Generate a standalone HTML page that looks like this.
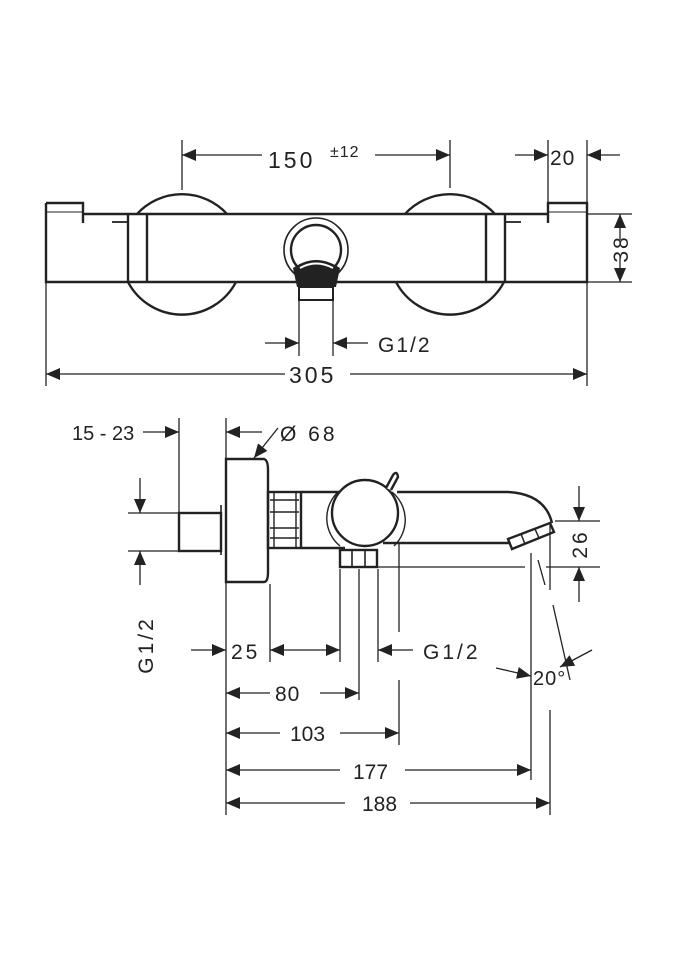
<!DOCTYPE html>
<html><head><meta charset="utf-8"><style>
html,body{margin:0;padding:0;background:#fff}
svg{display:block}
text{font-family:"Liberation Sans",sans-serif;fill:#222}
</style></head><body>
<svg width="675" height="960" viewBox="0 0 675 960" xmlns="http://www.w3.org/2000/svg" style="letter-spacing:2px">
<defs>
<marker id="a" viewBox="0 0 14 12" refX="14" refY="6" markerWidth="14" markerHeight="12" markerUnits="userSpaceOnUse" orient="auto">
<path d="M0,0 L14,6 L0,12 Z" fill="#222"/></marker>
</defs>
<g stroke="#222" fill="none" stroke-width="1.3">
<line x1="182" y1="140" x2="182" y2="190"/>
<line x1="450" y1="140" x2="450" y2="188"/>
<line x1="548" y1="140" x2="548" y2="202"/>
<line x1="587" y1="140" x2="587" y2="202"/>
<line x1="46" y1="282" x2="46" y2="386"/>
<line x1="587" y1="282" x2="587" y2="386"/>
<line x1="587" y1="214" x2="632" y2="214"/>
<line x1="587" y1="282" x2="632" y2="282"/>
<line x1="299" y1="298" x2="299" y2="356"/>
<line x1="333" y1="298" x2="333" y2="356"/>
<line x1="262" y1="155" x2="182" y2="155" marker-end="url(#a)"/>
<line x1="375" y1="155" x2="450" y2="155" marker-end="url(#a)"/>
<line x1="515" y1="155" x2="548" y2="155" marker-end="url(#a)"/>
<line x1="620" y1="155" x2="587" y2="155" marker-end="url(#a)"/>
<line x1="140" y1="374" x2="46" y2="374" marker-end="url(#a)"/>
<line x1="500" y1="374" x2="587" y2="374" marker-end="url(#a)"/>
<line x1="350" y1="374" x2="500" y2="374"/>
<line x1="140" y1="374" x2="285" y2="374"/>
<line x1="620" y1="240" x2="620" y2="214" marker-end="url(#a)"/>
<line x1="620" y1="258" x2="620" y2="282" marker-end="url(#a)"/>
<line x1="265" y1="343" x2="299" y2="343" marker-end="url(#a)"/>
<line x1="368" y1="343" x2="333" y2="343" marker-end="url(#a)"/>
</g>
<g stroke="#222" fill="none" stroke-width="2.4">
<path d="M137,214 A61,61 0 0 1 227,214"/>
<path d="M128,282 A61,61 0 0 0 236,282"/>
<path d="M405,214 A61,61 0 0 1 495,214"/>
<path d="M396,282 A61,61 0 0 0 504,282"/>
<path d="M46,203 H83 V223 M46,203 V282 H587 V203 H548 V223 M83,214 H548"/>
<line x1="128" y1="214" x2="128" y2="282"/>
<line x1="147" y1="214" x2="147" y2="282"/>
<line x1="486" y1="214" x2="486" y2="282"/>
<line x1="505" y1="214" x2="505" y2="282"/>
<line x1="112" y1="222" x2="128" y2="222" stroke-width="1.8"/>
<line x1="505" y1="222" x2="521" y2="222" stroke-width="1.8"/>
<line x1="46" y1="212" x2="83" y2="212" stroke-width="1"/>
<line x1="548" y1="212" x2="587" y2="212" stroke-width="1"/>
<rect x="299" y="287" width="34" height="13" stroke-width="2"/>
</g>
<g stroke="#222" fill="none">
<circle cx="316" cy="250" r="32" stroke-width="1.6"/>
<circle cx="316" cy="250" r="25" stroke-width="2.4"/>
</g>
<path d="M293,268 Q316,252 340,268 L336,287 H297 Z" fill="#222"/>
<path d="M300,268 Q316,259 333,268" stroke="#fff" stroke-width="2" fill="none"/>
<text x="268" y="168" font-size="23" style="letter-spacing:3px">150</text>
<text x="330" y="157" font-size="16" style="letter-spacing:1px">±12</text>
<text x="550" y="165" font-size="21" style="letter-spacing:1px">20</text>
<text x="378" y="352" font-size="21">G1/2</text>
<text x="289" y="383" font-size="23" style="letter-spacing:3px">305</text>
<text transform="translate(628,249) rotate(-90)" font-size="21" text-anchor="middle">38</text>

<g stroke="#222" fill="none" stroke-width="1.3">
<line x1="179" y1="418" x2="179" y2="513"/>
<line x1="226" y1="418" x2="226" y2="815"/>
<line x1="128" y1="513" x2="179" y2="513"/>
<line x1="128" y1="551" x2="179" y2="551"/>
<line x1="140" y1="478" x2="140" y2="513" marker-end="url(#a)"/>
<line x1="140" y1="585" x2="140" y2="551" marker-end="url(#a)"/>
<line x1="143" y1="432" x2="179" y2="432" marker-end="url(#a)"/>
<line x1="262" y1="432" x2="226" y2="432" marker-end="url(#a)"/>
<line x1="278" y1="428" x2="254" y2="458" marker-end="url(#a)"/>
<line x1="270" y1="584" x2="270" y2="662"/>
<line x1="340" y1="569" x2="340" y2="662"/>
<line x1="359" y1="569" x2="359" y2="700"/>
<line x1="378" y1="569" x2="378" y2="662"/>
<line x1="399" y1="543" x2="399" y2="632"/>
<line x1="399" y1="680" x2="399" y2="745"/>
<line x1="377" y1="567" x2="525" y2="567"/>
<line x1="531" y1="553" x2="531" y2="780"/>
<line x1="550" y1="710" x2="550" y2="815"/>
<line x1="550" y1="525" x2="550" y2="590"/>
<line x1="555" y1="521" x2="600" y2="521"/>
<line x1="546" y1="567" x2="600" y2="567"/>
<line x1="579" y1="486" x2="579" y2="521" marker-end="url(#a)"/>
<line x1="579" y1="602" x2="579" y2="567" marker-end="url(#a)"/>
<line x1="538" y1="560" x2="545" y2="585"/>
<line x1="553" y1="605" x2="570" y2="680"/>
<line x1="496" y1="668" x2="531" y2="676" marker-end="url(#a)"/>
<line x1="592" y1="650" x2="560" y2="667" marker-end="url(#a)"/>
<line x1="191" y1="650" x2="226" y2="650" marker-end="url(#a)"/>
<line x1="300" y1="650" x2="270" y2="650" marker-end="url(#a)"/>
<line x1="300" y1="650" x2="340" y2="650" marker-end="url(#a)"/>
<line x1="413" y1="650" x2="378" y2="650" marker-end="url(#a)"/>
<line x1="270" y1="693" x2="226" y2="693" marker-end="url(#a)"/>
<line x1="320" y1="693" x2="359" y2="693" marker-end="url(#a)"/>
<line x1="280" y1="733" x2="226" y2="733" marker-end="url(#a)"/>
<line x1="340" y1="733" x2="399" y2="733" marker-end="url(#a)"/>
<line x1="340" y1="770" x2="226" y2="770" marker-end="url(#a)"/>
<line x1="405" y1="770" x2="531" y2="770" marker-end="url(#a)"/>
<line x1="345" y1="803" x2="226" y2="803" marker-end="url(#a)"/>
<line x1="410" y1="803" x2="550" y2="803" marker-end="url(#a)"/>
</g>
<g stroke="#222" fill="none" stroke-width="2.4">
<rect x="179" y="513" width="42" height="38"/>
<line x1="221" y1="505" x2="221" y2="555" stroke-width="1.6"/>
<path d="M226,459 H264 Q268,460 268,470 V572 Q268,582 264,582 H226 Z"/>
<rect x="268" y="492" width="33" height="56"/>
<line x1="274" y1="492" x2="274" y2="548" stroke-width="1.4"/>
<line x1="296" y1="492" x2="296" y2="548" stroke-width="1.4"/>
<line x1="270" y1="500" x2="299" y2="500" stroke-width="1.4"/>
<line x1="270" y1="512" x2="299" y2="512" stroke-width="1.4"/>
<line x1="270" y1="528" x2="299" y2="528" stroke-width="1.4"/>
<line x1="270" y1="538" x2="299" y2="538" stroke-width="1.4"/>
<path d="M301,492 H340 M301,548 H345"/>
<path d="M397,492 H508 Q545,494 552,523"/>
<path d="M383,543 H510"/>
<path d="M508,539 L550,523 L554,532 L512,549 Z"/>
<line x1="521" y1="534" x2="525" y2="544" stroke-width="1.5"/>
<line x1="535" y1="529" x2="539" y2="538" stroke-width="1.5"/>
<path d="M338,492 A36,36 0 0 0 340,546" stroke-width="1.4"/>
<path d="M392,492 A36,36 0 0 1 394,546" stroke-width="1.4"/>
<circle cx="365" cy="513" r="33" fill="#fff"/>
<path d="M386,488 L393,475 Q397,470 398,477 L391,490" fill="#fff"/>
<rect x="340" y="550" width="37" height="17"/>
<line x1="352" y1="550" x2="352" y2="567" stroke-width="1.6"/>
<line x1="365" y1="550" x2="365" y2="567" stroke-width="1.6"/>
</g>
<text x="72" y="440" font-size="20" style="letter-spacing:0px">15 - 23</text>
<text x="280" y="441" font-size="21" style="letter-spacing:3px">Ø 68</text>
<text transform="translate(153,645) rotate(-90)" font-size="21" text-anchor="middle" style="letter-spacing:3px">G1/2</text>
<text x="231" y="659" font-size="21" style="letter-spacing:3px">25</text>
<text x="423" y="659" font-size="21" style="letter-spacing:3px">G1/2</text>
<text x="533" y="685" font-size="20" style="letter-spacing:1px">20°</text>
<text x="275" y="701" font-size="21" style="letter-spacing:1px">80</text>
<text x="290" y="741" font-size="21" style="letter-spacing:0px">103</text>
<text x="353" y="779" font-size="21" style="letter-spacing:0px">177</text>
<text x="362" y="811" font-size="21" style="letter-spacing:0px">188</text>
<text transform="translate(587,544) rotate(-90)" font-size="21" text-anchor="middle" style="letter-spacing:3px">26</text>
</svg>
</body></html>
